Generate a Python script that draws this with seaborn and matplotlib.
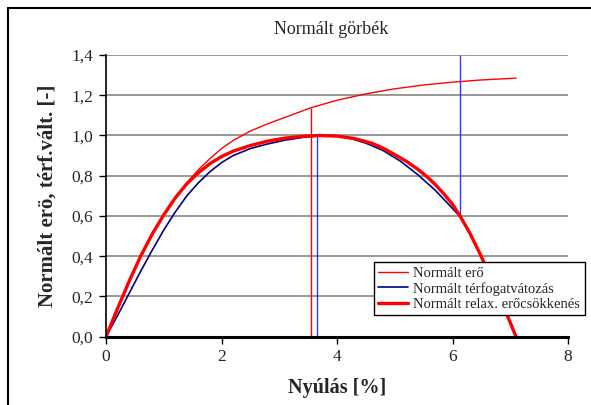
import matplotlib
matplotlib.use("Agg")
import matplotlib.pyplot as plt
import seaborn as sns
from matplotlib.lines import Line2D

# Normált erő
x_ero = [0, 0.2, 0.4, 0.6, 0.8, 1.0, 1.2, 1.4, 1.6, 1.8, 2.0, 2.2, 2.5, 2.8,
         3.1, 3.55, 4.0, 4.5, 5.0, 5.5, 6.0, 6.5, 7.1]
y_ero = [0, 0.135, 0.27, 0.4, 0.51, 0.605, 0.69, 0.765, 0.83, 0.885, 0.935,
         0.975, 1.022, 1.058, 1.09, 1.138, 1.175, 1.207, 1.232, 1.251, 1.265,
         1.276, 1.285]

# Normált térfogatvátozás
x_terf = [0, 0.2, 0.4, 0.6, 0.8, 1.0, 1.2, 1.4, 1.6, 1.8, 2.0, 2.2, 2.5, 2.8,
          3.1, 3.4, 3.7, 3.9, 4.2, 4.5, 4.8, 5.1, 5.4, 5.7, 5.9, 6.12]
y_terf = [0, 0.105, 0.215, 0.325, 0.43, 0.53, 0.62, 0.7, 0.765, 0.82, 0.865,
          0.9, 0.935, 0.958, 0.977, 0.99, 0.999, 1.0, 0.988, 0.962, 0.925,
          0.872, 0.805, 0.728, 0.668, 0.6]

# Normált relax. erőcsökkenés
x_relax = [0, 0.2, 0.4, 0.6, 0.8, 1.0, 1.2, 1.4, 1.6, 1.8, 2.0, 2.2, 2.5, 2.8,
           3.1, 3.4, 3.7, 4.0, 4.3, 4.6, 4.8, 5.0, 5.2, 5.4, 5.55, 5.7, 5.85,
           6.0, 6.12, 6.3, 6.48, 6.7, 6.9, 7.1]
y_relax = [0, 0.14, 0.275, 0.4, 0.51, 0.605, 0.69, 0.76, 0.815, 0.86, 0.895,
           0.922, 0.95, 0.972, 0.987, 0.996, 1.0, 0.997, 0.985, 0.962, 0.937,
           0.905, 0.872, 0.832, 0.797, 0.757, 0.71, 0.658, 0.605, 0.515, 0.41,
           0.27, 0.14, 0.0]

# függőleges jelölő vonalak
vline_x = [3.55, 3.65, 6.13]
vline_ymin = [0, 0, 0.6]
vline_ymax = [1.138, 1.0, 1.4]
vline_colors = ["#ff0000", "#3333ff", "#3333ff"]

xticks = [0, 2, 4, 6, 8]
yticks = [0, 0.2, 0.4, 0.6, 0.8, 1.0, 1.2, 1.4]
ytick_labels = ["0,0", "0,2", "0,4", "0,6", "0,8", "1,0", "1,2", "1,4"]

sns.set_style("white")
plt.rcParams['font.family'] = ['Liberation Serif', 'DejaVu Serif']

fig = plt.figure(figsize=(5.91, 4.05), dpi=100)
ax = fig.add_axes([106 / 591, 1 - 336.7 / 405, 462 / 591, 281.7 / 405])

ax.yaxis.grid(True, color="#888888", lw=1.2)
ax.set_axisbelow(True)

for x, y0, y1, c in zip(vline_x, vline_ymin, vline_ymax, vline_colors):
    ax.vlines(x, y0, y1, color=c, lw=1.0)

sns.lineplot(x=x_ero, y=y_ero, ax=ax, color="#ff0000", lw=1.0, sort=False,
             estimator=None, label="Normált erő")
sns.lineplot(x=x_terf, y=y_terf, ax=ax, color="#000080", lw=1.2, sort=False,
             estimator=None, label="Normált térfogatvátozás")
sns.lineplot(x=x_relax, y=y_relax, ax=ax, color="#ff0000", lw=2.4, sort=False,
             estimator=None, label="Normált relax. erőcsökkenés")

ax.set_xlim(0, 8)
ax.set_ylim(0, 1.4)
ax.set_xticks(xticks)
ax.set_xticklabels([str(t) for t in xticks])
ax.set_yticks(yticks)
ax.set_yticklabels(ytick_labels)
ax.tick_params(axis="both", direction="out", length=5, width=1, color="black",
               labelsize=12.5, pad=4, left=True, bottom=True)

sns.despine(ax=ax, top=True, right=True)
ax.spines["left"].set_color("black")
ax.spines["left"].set_linewidth(1.2)
ax.spines["bottom"].set_color("black")
ax.spines["bottom"].set_linewidth(2.2)

ax.set_xlabel("Nyúlás [%]", fontsize=14.5, fontweight="bold", labelpad=9)
ax.set_ylabel("Normált erö, térf.vált. [-]", fontsize=15, fontweight="bold",
              labelpad=10)
fig.text(331 / 591, 1 - 30 / 405, "Normált görbék", ha="center", va="center",
         fontsize=13)

leg = ax.legend(loc="upper left", bbox_to_anchor=(0.58, 0.265), fontsize=10.5,
                frameon=True, fancybox=False, framealpha=1, borderpad=0.3,
                handlelength=2.0, handletextpad=0.4, labelspacing=0.15,
                borderaxespad=0)
leg.get_frame().set_edgecolor("black")
leg.get_frame().set_linewidth(1.0)
leg.set_clip_on(False)

# külső keret
x0, y0 = 8 / 591, 1 - 8 / 405
fig.add_artist(Line2D([x0, x0], [0, y0], color="black", lw=1.5))
fig.add_artist(Line2D([x0, 1], [y0, y0], color="black", lw=1.5))

fig.savefig("out.png", dpi=100)
